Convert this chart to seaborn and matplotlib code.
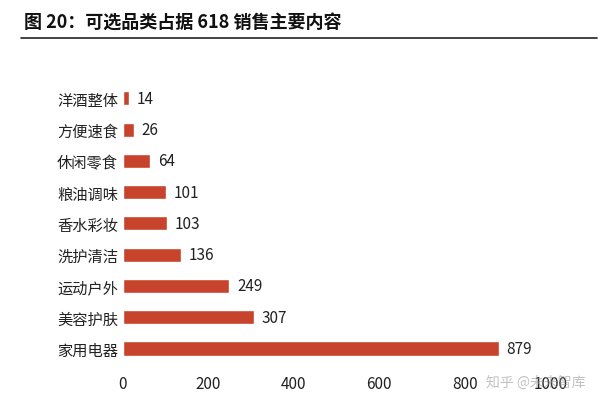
import matplotlib
matplotlib.use("Agg")
import matplotlib.pyplot as plt
import seaborn as sns
import pandas as pd

categories = ["洋酒整体", "方便速食", "休闲零食", "粮油调味", "香水彩妆", "洗护清洁", "运动户外", "美容护肤", "家用电器"]
values = [14, 26, 64, 101, 103, 136, 249, 307, 879]
ticks = [0, 200, 400, 600, 800, 1000]

sns.set_theme(style="white")
plt.rcParams['font.family'] = ['Noto Sans CJK SC', 'DejaVu Sans']

df = pd.DataFrame({"cat": categories, "val": values})
fig = plt.figure(figsize=(6, 4.14), dpi=100)
ax = fig.add_axes([0.205, 0.118, 0.712, 0.68])
sns.barplot(data=df, y="cat", x="val", color="#C8432B", saturation=1, width=0.45, ax=ax)
for i, v in enumerate(values):
    ax.text(v + 18, i, str(v), va="center", ha="left", fontsize=11, color="#222222")
ax.set_xlim(0, 1000)
ax.set_xticks(ticks)
ax.set_xticklabels([str(t) for t in ticks], fontsize=11, color="#222222")
ax.tick_params(axis="y", labelsize=11, colors="#222222", length=0)
ax.tick_params(axis="x", length=0, pad=8)
ax.set_xlabel("")
ax.set_ylabel("")
for s in ax.spines.values():
    s.set_visible(False)

fig.text(0.04, 0.945, "图 20：可选品类占据 618 销售主要内容", fontsize=13, fontweight="bold", color="#111111", va="center")
fig.add_artist(plt.Line2D([0.035, 0.995], [0.905, 0.905], color="#222222", lw=1.2))
fig.text(0.975, 0.075, "知乎 @未来智库", fontsize=10, color="#999999", alpha=0.6, ha="right", va="center")
fig.savefig("out.png", dpi=100)
